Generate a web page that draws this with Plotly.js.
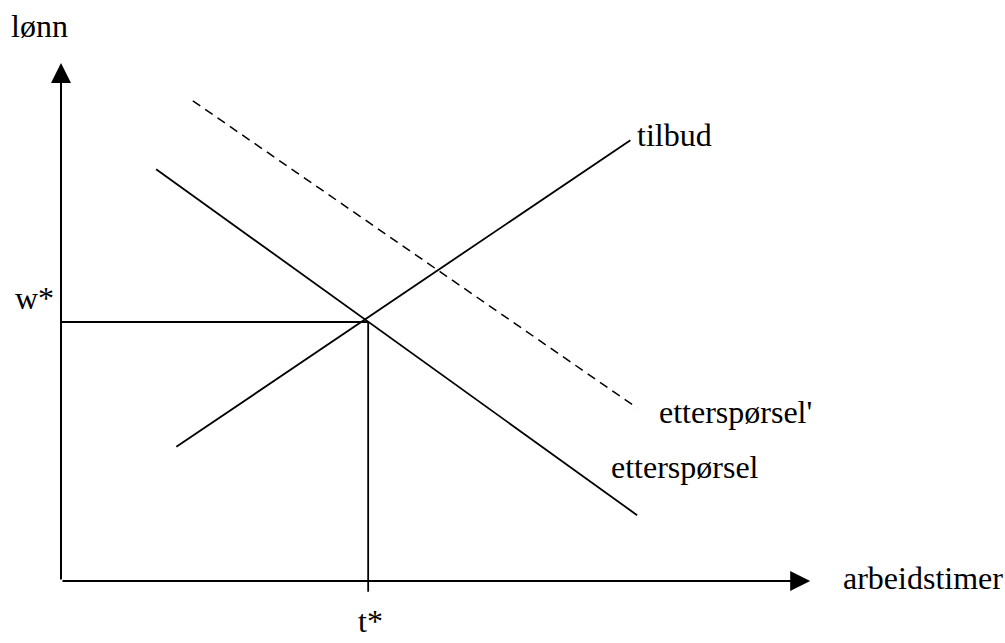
<!DOCTYPE html>
<html>
<head>
<meta charset="utf-8">
<script src="https://cdn.plot.ly/plotly-3.0.1.min.js"></script>
<style>html,body{margin:0;padding:0;background:#fff;}#chart{width:1005px;height:643px;}</style>
</head>
<body>
<div id="chart"></div>
<script>
// Conceptual units: arbeidstimer (x) 0..100, lønn (y) 0..100
const supplyX = [15.4, 76.0];
const supplyY = [25.9, 85.1];
const demandX = [12.7, 76.9];
const demandY = [79.5, 12.7];
const demand2X = [17.6, 76.9];
const demand2Y = [92.7, 33.4];
const eqT = 41.0;
const eqW = 50.0;
const wLineX = [0, eqT];
const wLineY = [eqW, eqW];
const tLineX = [eqT, eqT];
const tLineY = [eqW, -2.1];
const axisMax = [100, 100];

const labels = ["lønn", "w*", "tilbud", "etterspørsel'", "etterspørsel", "arbeidstimer", "t*"];
const labelX = [-2.9, -3.5, 76.8, 79.7, 73.3, 104.2, 41.3];
const labelY = [107.1, 54.6, 86.1, 32.6, 22.0, 0.6, -7.8];
const labelAnchor = ["center", "center", "left", "left", "left", "left", "center"];

const lineStyle = {color: "#000", width: 1.8};
const traces = [
  {x: supplyX, y: supplyY, mode: "lines", line: lineStyle, hoverinfo: "skip"},
  {x: demandX, y: demandY, mode: "lines", line: lineStyle, hoverinfo: "skip"},
  {x: demand2X, y: demand2Y, mode: "lines", line: {color: "#000", width: 1.5, dash: "9px,6px"}, hoverinfo: "skip"},
  {x: wLineX, y: wLineY, mode: "lines", line: lineStyle, hoverinfo: "skip"},
  {x: tLineX, y: tLineY, mode: "lines", line: lineStyle, hoverinfo: "skip"}
];

const font = {family: "Liberation Serif, Times New Roman, serif", size: 32, color: "#000"};
const annotations = labels.map((t, i) => ({
  text: t, x: labelX[i], y: labelY[i], xref: "x", yref: "y",
  showarrow: false, xanchor: labelAnchor[i], yanchor: "middle", borderpad: 0, font: font
}));
// axes with arrowheads
annotations.push({x: axisMax[0], y: 0, ax: 0, ay: 0, xref: "x", yref: "y", axref: "x", ayref: "y",
  showarrow: true, arrowhead: 2, arrowsize: 2, arrowwidth: 2, arrowcolor: "#000", text: ""});
annotations.push({x: 0, y: axisMax[1], ax: 0, ay: 0, xref: "x", yref: "y", axref: "x", ayref: "y",
  showarrow: true, arrowhead: 2, arrowsize: 2, arrowwidth: 2, arrowcolor: "#000", text: ""});

const hidden = {showgrid: false, zeroline: false, showticklabels: false, ticks: "", showline: false, fixedrange: true};
const layout = {
  width: 1005, height: 643,
  margin: {l: 0, r: 0, t: 0, b: 0},
  paper_bgcolor: "#fff", plot_bgcolor: "#fff",
  showlegend: false,
  xaxis: Object.assign({range: [-8.14, 126.0]}, hidden),
  yaxis: Object.assign({range: [-11.97, 112.16]}, hidden),
  annotations: annotations
};
Plotly.newPlot("chart", traces, layout, {displayModeBar: false, staticPlot: true});
</script>
</body>
</html>
